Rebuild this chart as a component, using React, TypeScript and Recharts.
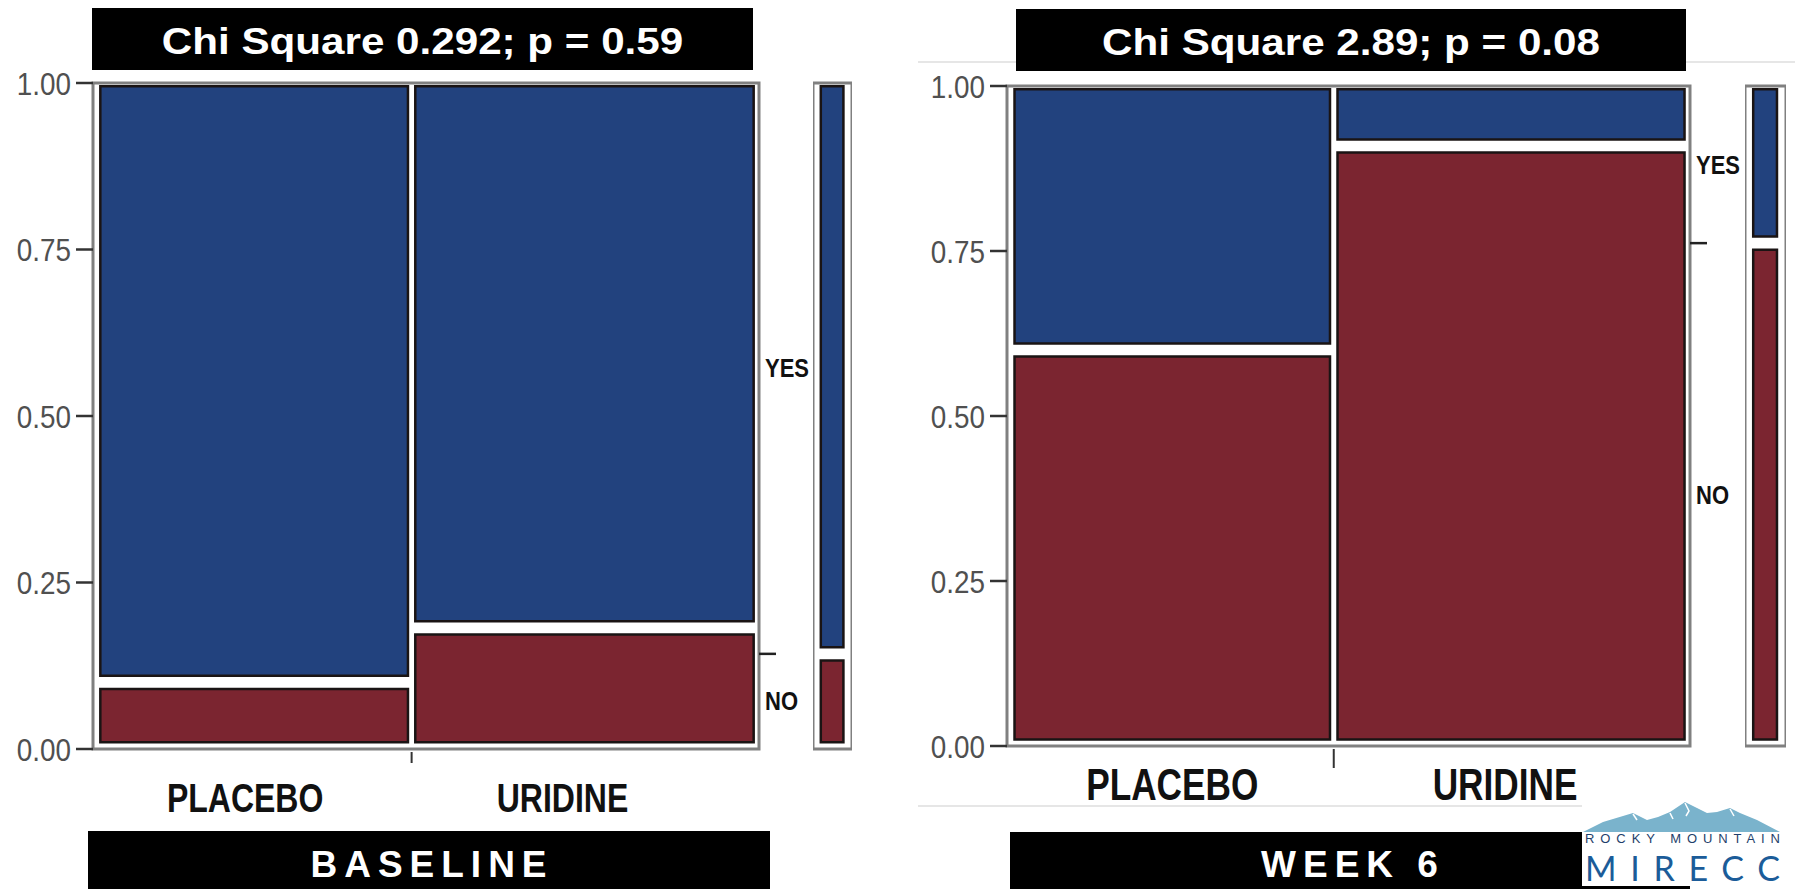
import React from 'react';
import { ComposedChart, XAxis, YAxis, ReferenceArea } from 'recharts';

const groups = ['PLACEBO', 'URIDINE'];
const responses = ['NO', 'YES'];

// patients per arm, ordered as in `groups`
const baselineNo = [1, 2];
const baselineYes = [9, 9];
const week6No = [6, 10];
const week6Yes = [4, 1];

const chiTitles = ['Chi Square 0.292; p = 0.59', 'Chi Square 2.89; p = 0.08'];
const timepoints = ['BASELINE', 'WEEK 6'];
const yTicks = [0, 0.25, 0.5, 0.75, 1];

const BLUE = '#22427e';
const RED = '#7b2530';
const EDGE = '#1a1414';
const FRAME = '#808080';
const FONT = "'Liberation Sans', Arial, Helvetica, sans-serif";

// spacing inside the mosaic frame, in axis units
const INSET_L = 0.011;
const INSET_R = 0.008;
const INSET_T = 0.005;
const INSET_B = 0.01;
const GAP_X = 0.011;
const GAP_Y = 0.02;

const SIDE_AXIS_WIDTH = 60;

type Column = { group: string; x1: number; x2: number; pNo: number };

function mosaicColumns(no: number[], yes: number[]): Column[] {
  const totals = no.map((n, i) => n + yes[i]);
  const grand = totals.reduce((a, b) => a + b, 0);
  const span = 1 - INSET_L - INSET_R - GAP_X * (totals.length - 1);
  let x = INSET_L;
  return totals.map((t, i) => {
    const w = (span * t) / grand;
    const col = { group: groups[i], x1: x, x2: x + w, pNo: no[i] / t };
    x += w + GAP_X;
    return col;
  });
}

type Layout = {
  left: number;
  width: number;
  height: number;
  top: number;
  right: number;
  bottom: number;
  yAxisWidth: number;
  xAxisHeight: number;
  labelSize: number;
  labelDrop: number;
  labelDx: number[];
  tickDrop: number;
  sideLeft: number;
  sideWidth: number;
  title: { x: number; y: number; w: number; h: number };
  name: { x: number; y: number; w: number; h: number };
};

const layouts: Layout[] = [
  {
    left: 0, width: 825, height: 830, top: 83, right: 6, bottom: 6,
    yAxisWidth: 93, xAxisHeight: 75,
    labelSize: 40, labelDrop: 63, labelDx: [-9, -22], tickDrop: 14,
    sideLeft: 813, sideWidth: 39,
    title: { x: 92, y: 8, w: 661, h: 62 },
    name: { x: 88, y: 831, w: 682, h: 60 },
  },
  {
    left: 900, width: 855, height: 830, top: 86, right: 5, bottom: 6,
    yAxisWidth: 107, xAxisHeight: 78,
    labelSize: 44, labelDrop: 54, labelDx: [0, -6], tickDrop: 22,
    sideLeft: 1745, sideWidth: 41,
    title: { x: 1016, y: 9, w: 670, h: 62 },
    name: { x: 1010, y: 832, w: 680, h: 60 },
  },
];

function ValueTick(props: any) {
  const { x, y, payload } = props;
  return (
    <text
      transform={`translate(${x},${y}) scale(0.87,1)`}
      textAnchor="end"
      dy="0.36em"
      fontSize={32}
      fill="#505050"
      fontFamily={FONT}
    >
      {Number(payload.value).toFixed(2)}
    </text>
  );
}

function SideTick(props: any) {
  const { x, y, payload, boundary } = props;
  const v = Number(payload.value);
  if (Math.abs(v - boundary) < 1e-9) {
    return <line x1={x} x2={x + 17} y1={y} y2={y} stroke="#222" strokeWidth={2.5} />;
  }
  return (
    <text
      transform={`translate(${x + 6},${y}) scale(0.88,1)`}
      textAnchor="start"
      dy="0.36em"
      fontSize={25}
      fontWeight="bold"
      fill="#111"
      fontFamily={FONT}
    >
      {v < boundary ? responses[0] : responses[1]}
    </text>
  );
}

function CategoryTick(props: any) {
  const { x, y, payload, cols, boundary, layout } = props;
  const v = Number(payload.value);
  if (Math.abs(v - boundary) < 1e-9) {
    return <line x1={x} x2={x} y1={y + 3} y2={y + layout.tickDrop} stroke="#333" strokeWidth={2} />;
  }
  const i = cols.findIndex((c: Column) => v >= c.x1 && v <= c.x2);
  return (
    <text
      transform={`translate(${x + layout.labelDx[i]},${y + layout.labelDrop}) scale(0.8,1)`}
      textAnchor="middle"
      fontSize={layout.labelSize}
      fontWeight="bold"
      fill="#111"
      fontFamily={FONT}
    >
      {cols[i].group}
    </text>
  );
}

function MosaicPanel({ no, yes, layout }: { no: number[]; yes: number[]; layout: Layout }) {
  const cols = mosaicColumns(no, yes);
  const total = no.reduce((a, b) => a + b, 0) + yes.reduce((a, b) => a + b, 0);
  const marginNo = no.reduce((a, b) => a + b, 0) / total;
  const boundaryX = (cols[0].x2 + cols[1].x1) / 2;
  const xTicks = [(cols[0].x1 + cols[0].x2) / 2, boundaryX, (cols[1].x1 + cols[1].x2) / 2];
  const sideTicks = [marginNo, marginNo / 2, (marginNo + 1) / 2];
  const plotBottom = layout.height - layout.bottom - layout.xAxisHeight;

  return (
    <>
      <div style={{ position: 'absolute', left: layout.left, top: 0 }}>
        <ComposedChart
          width={layout.width}
          height={layout.height}
          margin={{ top: layout.top, right: layout.right, bottom: layout.bottom, left: 0 }}
          style={{ overflow: 'visible' }}
        >
          <XAxis
            type="number"
            dataKey="x"
            domain={[0, 1]}
            allowDataOverflow
            ticks={xTicks}
            interval={0}
            height={layout.xAxisHeight}
            axisLine={false}
            tickLine={false}
            tickSize={0}
            tickMargin={0}
            tick={(p: any) => <CategoryTick {...p} cols={cols} boundary={boundaryX} layout={layout} />}
          />
          <YAxis
            type="number"
            domain={[0, 1]}
            allowDataOverflow
            ticks={yTicks}
            interval={0}
            width={layout.yAxisWidth}
            axisLine={false}
            tickLine={{ stroke: '#333', strokeWidth: 2.5 }}
            tickSize={17}
            tickMargin={5}
            tick={ValueTick}
          />
          <YAxis
            yAxisId="side"
            orientation="right"
            type="number"
            domain={[0, 1]}
            allowDataOverflow
            ticks={sideTicks}
            interval={0}
            width={SIDE_AXIS_WIDTH}
            axisLine={false}
            tickLine={false}
            tickSize={0}
            tickMargin={0}
            tick={(p: any) => <SideTick {...p} boundary={marginNo} />}
          />
          <ReferenceArea x1={0} x2={1} y1={0} y2={1} fill="#fff" fillOpacity={1} stroke={FRAME} strokeWidth={3} />
          {cols.map((c) => (
            <ReferenceArea
              key={c.group + '-no'}
              x1={c.x1}
              x2={c.x2}
              y1={INSET_B}
              y2={c.pNo - GAP_Y / 2}
              fill={RED}
              fillOpacity={1}
              stroke={EDGE}
              strokeWidth={2.5}
            />
          ))}
          {cols.map((c) => (
            <ReferenceArea
              key={c.group + '-yes'}
              x1={c.x1}
              x2={c.x2}
              y1={c.pNo + GAP_Y / 2}
              y2={1 - INSET_T}
              fill={BLUE}
              fillOpacity={1}
              stroke={EDGE}
              strokeWidth={2.5}
            />
          ))}
        </ComposedChart>
      </div>

      {/* marginal bar for the overall response split */}
      <div style={{ position: 'absolute', left: layout.sideLeft, top: 0 }}>
        <ComposedChart
          width={layout.sideWidth}
          height={layout.height}
          margin={{ top: layout.top, right: 0, bottom: layout.height - plotBottom, left: 0 }}
        >
          <XAxis type="number" dataKey="x" domain={[0, 1]} hide allowDataOverflow />
          <YAxis type="number" domain={[0, 1]} hide allowDataOverflow />
          <ReferenceArea x1={0} x2={1} y1={0} y2={1} fill="#fff" fillOpacity={1} stroke={FRAME} strokeWidth={3} />
          <ReferenceArea x1={0.2} x2={0.78} y1={INSET_B} y2={marginNo - GAP_Y / 2} fill={RED} fillOpacity={1} stroke={EDGE} strokeWidth={2.5} />
          <ReferenceArea x1={0.2} x2={0.78} y1={marginNo + GAP_Y / 2} y2={1 - INSET_T} fill={BLUE} fillOpacity={1} stroke={EDGE} strokeWidth={2.5} />
        </ComposedChart>
      </div>
    </>
  );
}

function Logo() {
  const ridge = [
    [1583, 832], [1603, 822], [1633, 813], [1647, 820], [1658, 817], [1670, 812],
    [1685, 802], [1697, 808], [1707, 813], [1717, 812], [1730, 808], [1740, 813],
    [1757, 820], [1780, 832],
  ];
  return (
    <g>
      <rect x={1582} y={800} width={213} height={86} fill="#fff" />
      <polygon points={ridge.map((p) => p.join(',')).join(' ')} fill="#7ab3cc" />
      <polyline points="1685,803 1689,811 1686,816" fill="none" stroke="#fff" strokeWidth={1.5} />
      <polyline points="1633,814 1637,820" fill="none" stroke="#fff" strokeWidth={1.5} />
      <polyline points="1730,809 1734,816" fill="none" stroke="#fff" strokeWidth={1.5} />
      <polyline points="1670,813 1673,819" fill="none" stroke="#fff" strokeWidth={1.5} />
      <text x={1585} y={843} fontSize={13} fill="#1f3f6b" fontFamily={FONT} textLength={195} lengthAdjust="spacing">
        ROCKY MOUNTAIN
      </text>
      <text x={1585} y={881} fontSize={34} fontWeight={400} fill="#1b5c99" fontFamily="Lato, 'Open Sans', sans-serif" textLength={195} lengthAdjust="spacing">
        MIRECC
      </text>
    </g>
  );
}

export default function App() {
  return (
    <div style={{ position: 'absolute', left: 0, top: 0, width: 1795, height: 889, background: '#fff', overflow: 'hidden' }}>
      <svg width={1795} height={889} style={{ position: 'absolute', left: 0, top: 0 }}>
        <line x1={918} x2={1795} y1={62} y2={62} stroke="#e6e6e6" strokeWidth={2} />
        <line x1={918} x2={1795} y1={806} y2={806} stroke="#e6e6e6" strokeWidth={2} />
        {layouts.map((l, i) => (
          <g key={i}>
            <rect x={l.title.x} y={l.title.y} width={l.title.w} height={l.title.h} fill="#000" />
            <text
              transform={`translate(${l.title.x + l.title.w / 2},${l.title.y + 46}) scale(1.14,1)`}
              textAnchor="middle"
              fontSize={37}
              fontWeight="bold"
              fill="#fff"
              fontFamily={FONT}
            >
              {chiTitles[i]}
            </text>
            <rect x={l.name.x} y={l.name.y} width={l.name.w} height={l.name.h} fill="#000" />
            <text
              x={l.name.x + l.name.w / 2 + 3}
              y={877}
              textAnchor="middle"
              fontSize={37}
              fontWeight="bold"
              letterSpacing={7}
              fill="#fff"
              fontFamily={FONT}
            >
              {timepoints[i]}
            </text>
          </g>
        ))}
        <Logo />
      </svg>
      <MosaicPanel no={baselineNo} yes={baselineYes} layout={layouts[0]} />
      <MosaicPanel no={week6No} yes={week6Yes} layout={layouts[1]} />
    </div>
  );
}
